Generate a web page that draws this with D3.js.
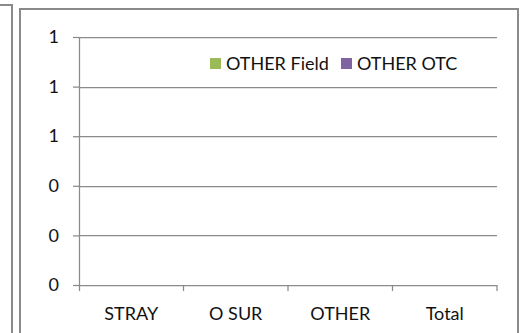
<!DOCTYPE html>
<html>
<head>
<meta charset="utf-8">
<script src="https://cdn.jsdelivr.net/npm/d3@7"></script>
<style>
  body { margin: 0; background: #fff; }
  text { font-family: Lato, "Liberation Sans", sans-serif; fill: #111; }
</style>
</head>
<body>
<div id="vis"></div>
<script>
// chart data - every value is zero in the source sheet
const categories = ['STRAY', 'O SUR', 'OTHER', 'Total'];
const seriesNames = ['OTHER Field', 'OTHER OTC'];
const otherField = [0, 0, 0, 0];
const otherOtc = [0, 0, 0, 0];
const yTicks = [0, 0.2, 0.4, 0.6, 0.8, 1.0];

const colors = ['#9BBB59', '#8064A2'];
const lineColor = '#8a8a8a';

const width = 523, height = 333;
const svg = d3.select('#vis').append('svg')
  .attr('width', width)
  .attr('height', height);

// bit of the neighbouring chart's frame on the left
svg.append('path')
  .attr('d', 'M0,5H12V340')
  .attr('fill', 'none')
  .attr('stroke', lineColor)
  .attr('stroke-width', 2);

// chart frame (bottom edge is cut off)
svg.append('path')
  .attr('d', 'M20,340V9H518V340')
  .attr('fill', 'none')
  .attr('stroke', lineColor)
  .attr('stroke-width', 2);

const plot = { left: 79, right: 497, top: 37, bottom: 285 };

const x = d3.scaleBand()
  .domain(categories)
  .range([plot.left, plot.right]);

const x1 = d3.scaleBand()
  .domain(seriesNames)
  .range([0, x.bandwidth()])
  .paddingOuter(0.6)
  .paddingInner(0);

const y = d3.scaleLinear()
  .domain([0, 1])
  .range([plot.bottom, plot.top]);

// gridlines
svg.append('g')
  .selectAll('line')
  .data(yTicks.slice(1))
  .join('line')
  .attr('x1', plot.left)
  .attr('x2', plot.right)
  .attr('y1', d => Math.round(y(d)) + 0.5)
  .attr('y2', d => Math.round(y(d)) + 0.5)
  .attr('stroke', lineColor)
  .attr('stroke-width', 1.25);

// y axis
const yAxis = svg.append('g')
  .attr('transform', `translate(${plot.left},0)`)
  .call(d3.axisLeft(y).tickValues(yTicks).tickFormat(d3.format('.0f')).tickSize(6).tickPadding(14));
yAxis.selectAll('line, path').attr('stroke', lineColor).attr('stroke-width', 1.25);
yAxis.select('.domain').attr('d', `M0.5,${plot.top}V${plot.bottom + 6}`);
yAxis.selectAll('text').attr('font-size', 18).attr('font-family', 'Lato, sans-serif').attr('fill', '#111');

// x axis, ticks sit on category boundaries
const xAxisG = svg.append('g')
  .attr('transform', `translate(0,${plot.bottom})`);
xAxisG.append('line')
  .attr('x1', plot.left).attr('x2', plot.right)
  .attr('y1', 0.5).attr('y2', 0.5)
  .attr('stroke', lineColor).attr('stroke-width', 1.25);
xAxisG.selectAll('.tick')
  .data(categories)
  .join('line')
  .attr('class', 'tick')
  .attr('x1', d => x(d) + x.bandwidth())
  .attr('x2', d => x(d) + x.bandwidth())
  .attr('y1', 0).attr('y2', 6)
  .attr('stroke', lineColor).attr('stroke-width', 1.25);
xAxisG.selectAll('text')
  .data(categories)
  .join('text')
  .attr('x', d => x(d) + x.bandwidth() / 2)
  .attr('y', 35)
  .attr('text-anchor', 'middle')
  .attr('font-size', 18)
  .text(d => d);

// bars (all zero height)
const seriesValues = [otherField, otherOtc];
seriesNames.forEach((name, i) => {
  svg.append('g')
    .selectAll('rect')
    .data(categories.map((c, j) => ({ c, v: seriesValues[i][j] })))
    .join('rect')
    .attr('x', d => x(d.c) + x1(name))
    .attr('width', x1.bandwidth())
    .attr('y', d => y(d.v))
    .attr('height', d => y(0) - y(d.v))
    .attr('fill', colors[i]);
});

// legend
const legendX = [210, 341];
const legend = svg.append('g')
  .selectAll('g')
  .data(seriesNames)
  .join('g')
  .attr('transform', (d, i) => `translate(${legendX[i]},58)`);
legend.append('rect')
  .attr('width', 11)
  .attr('height', 11)
  .attr('fill', (d, i) => colors[i]);
legend.append('text')
  .attr('x', 16)
  .attr('y', 11.5)
  .attr('font-size', 18)
  .text(d => d);
</script>
</body>
</html>
